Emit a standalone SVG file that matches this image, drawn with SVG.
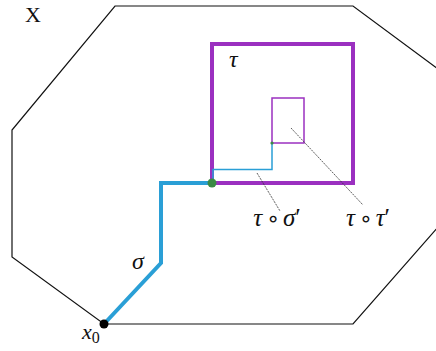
<svg xmlns="http://www.w3.org/2000/svg" width="436" height="351" viewBox="0 0 436 351">
<style>
.lbl{font-family:"Liberation Serif","DejaVu Serif",serif;fill:#111}
.it{font-style:italic}
.op{font-family:"DejaVu Sans",sans-serif;font-style:normal}
.leader{fill:none;stroke:#333;stroke-width:0.8;stroke-dasharray:2 1}
</style>
<rect width="436" height="351" fill="#fff"/>
<g id="space-X">
<polygon points="115,6 353,6 453,80 453,210 353,324 104,324 12,257 12,130" fill="none" stroke="#111" stroke-width="1.2"/>
<text class="lbl" x="25" y="22" font-size="22">X</text>
</g>
<g id="tau-square">
<rect x="212" y="44" width="141" height="139" fill="none" stroke="#9b30c0" stroke-width="4"/>
<text class="lbl it" x="229" y="67" font-size="24">τ</text>
</g>
<g id="tau-prime">
<rect x="272" y="98" width="32" height="45" fill="none" stroke="#9b30c0" stroke-width="1.5"/>
</g>
<g id="connectors">
<polyline points="104,324 161,263 161,183 212,183" fill="none" stroke="#2a9fd6" stroke-width="4"/>
<polyline points="213,183 213,169.5 272,169.5 272,143" fill="none" stroke="#2a9fd6" stroke-width="1.5"/>
<line class="leader" x1="257" y1="173" x2="280" y2="211"/>
<line class="leader" x1="291" y1="128" x2="363" y2="205"/>
</g>
<g id="x0">
<circle cx="104" cy="324" r="4.5" fill="#000"/>
<text class="lbl it" x="82" y="339" font-size="22">x<tspan font-style="normal" font-size="16" dy="4">0</tspan></text>
</g>
<g id="sigma">
<text class="lbl it" x="132" y="269" font-size="24">σ</text>
</g>
<g id="base-point">
<circle cx="212" cy="183" r="4.5" fill="#3b8a45"/>
<circle cx="272" cy="143" r="1.6" fill="#3b8a45"/>
</g>
<g id="tau-sigma-label">
<text class="lbl" x="277" y="226" font-size="25" text-anchor="middle"><tspan font-style="italic">τ</tspan><tspan class="op" font-size="22" dx="4">∘</tspan><tspan font-style="italic" dx="3">σ</tspan>′</text>
</g>
<g id="tau-tau-label">
<text class="lbl" x="368" y="226" font-size="25" text-anchor="middle"><tspan font-style="italic">τ</tspan><tspan class="op" font-size="22" dx="4">∘</tspan><tspan font-style="italic" dx="3">τ</tspan>′</text>
</g>
</svg>
